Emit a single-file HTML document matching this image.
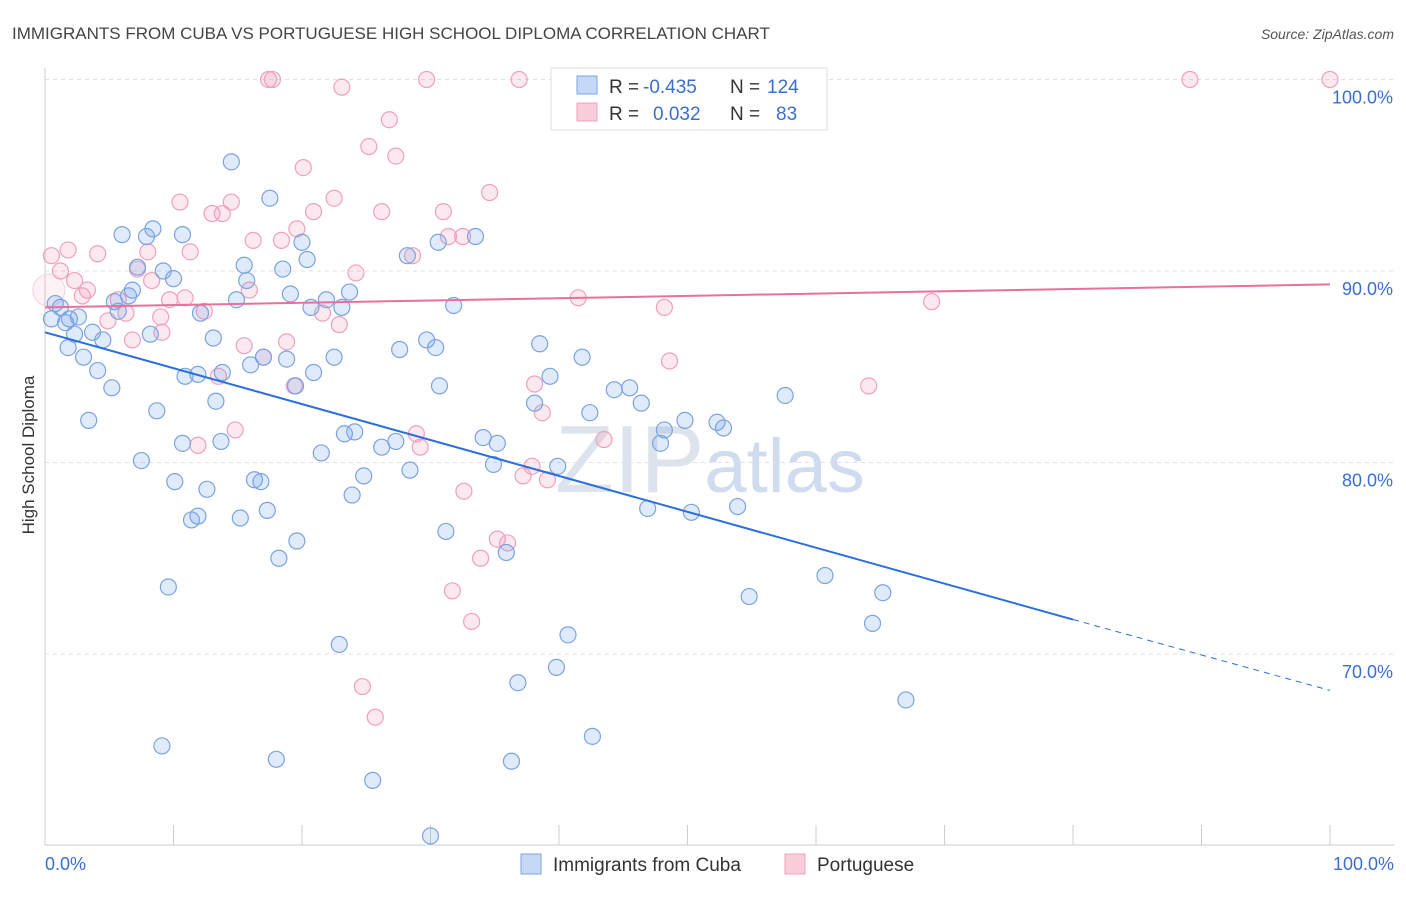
<!DOCTYPE html>
<html><head><meta charset="utf-8">
<style>
body{margin:0;background:#fff;font-family:"Liberation Sans",sans-serif;}
svg text{font-family:"Liberation Sans",sans-serif;}
</style></head>
<body>
<svg id="chart" width="1406" height="892" viewBox="0 0 1406 892" xmlns="http://www.w3.org/2000/svg">
<text x="12" y="39" font-size="17" fill="#444">IMMIGRANTS FROM CUBA VS PORTUGUESE HIGH SCHOOL DIPLOMA CORRELATION CHART</text>
<text x="1394" y="39" font-size="14" fill="#555" text-anchor="end" font-style="italic">Source: ZipAtlas.com</text>
<text x="555" y="492" font-size="96" fill="#dde3ec" font-family="Liberation Serif">ZIP<tspan fill="#cfdcf0" font-family="Liberation Sans" font-size="76">atlas</tspan></text>
<g id="grid"></g>
<g id="axes"></g>
<g id="pts"></g>
<g id="trends"></g>
<text transform="translate(34,455) rotate(-90)" font-size="17" fill="#333" text-anchor="middle">High School Diploma</text>
<g>
<rect x="551" y="68" width="276" height="62" fill="#fff" stroke="#ddd"/>
<rect x="577" y="76" width="20" height="18" fill="#c5d8f5" stroke="#7ba3e0"/>
<text x="609" y="93" font-size="19" fill="#333">R =</text>
<text x="643" y="93" font-size="19" fill="#3a6fd0">-0.435</text>
<text x="730" y="93" font-size="19" fill="#333">N =</text>
<text x="767" y="93" font-size="19" fill="#3a6fd0">124</text>
<rect x="577" y="103" width="20" height="18" fill="#f8cdd9" stroke="#f0a0bc"/>
<text x="609" y="120" font-size="19" fill="#333">R =</text>
<text x="653" y="120" font-size="19" fill="#3a6fd0">0.032</text>
<text x="730" y="120" font-size="19" fill="#333">N =</text>
<text x="776" y="120" font-size="19" fill="#3a6fd0">83</text>
</g>
<g>
<rect x="521" y="854" width="20" height="20" fill="#c5d8f5" stroke="#7ba3e0"/>
<text x="553" y="871" font-size="19" fill="#333">Immigrants from Cuba</text>
<rect x="785" y="854" width="20" height="20" fill="#f8cdd9" stroke="#f0a0bc"/>
<text x="817" y="871" font-size="19" fill="#333">Portuguese</text>
</g>
</svg>
<script>
const yTicks=[70,80,90,100];
const yTickLabels=["70.0%","80.0%","90.0%","100.0%"];
const xTickLabels=["0.0%","100.0%"];
const cubaX=[0.8,0.5,1.2,1.6,1.9,2.6,1.8,2.3,3.0,3.7,4.5,4.1,5.2,3.4,6.0,7.9,8.4,7.2,9.2,10.0,6.5,6.8,5.4,5.7,8.2,8.7,7.5,10.7,14.5,17.5,15.5,15.7,14.9,18.5,20.0,20.4,19.1,12.1,13.1,10.9,11.9,13.8,13.3,16.0,17.0,18.8,19.5,13.7,10.7,10.1,12.6,11.9,11.4,15.2,16.3,16.8,17.3,19.6,18.2,9.6,9.1,18.0,20.7,21.9,23.1,23.7,20.9,22.5,21.5,23.3,24.1,24.8,23.9,26.2,27.3,28.4,27.6,28.2,30.6,33.5,31.8,29.7,30.4,30.7,31.2,22.9,25.5,30.0,34.1,35.2,34.9,35.9,38.5,39.3,38.1,39.9,41.8,42.4,44.3,45.5,46.4,40.7,39.8,36.8,42.6,36.3,49.8,52.3,52.8,48.2,47.9,46.9,50.3,53.9,57.6,60.7,54.8,64.4,65.2,67.0];
const cubaY=[88.3,87.5,88.1,87.3,87.5,87.6,86.0,86.7,85.5,86.8,86.4,84.8,83.9,82.2,91.9,91.8,92.2,90.2,90.0,89.6,88.7,89.0,88.4,87.9,86.7,82.7,80.1,91.9,95.7,93.8,90.3,89.5,88.5,90.1,91.5,90.6,88.8,87.8,86.5,84.5,84.6,84.7,83.2,85.1,85.5,85.4,84.0,81.1,81.0,79.0,78.6,77.2,77.0,77.1,79.1,79.0,77.5,75.9,75.0,73.5,65.2,64.5,88.1,88.5,88.1,88.9,84.7,85.5,80.5,81.5,81.6,79.3,78.3,80.8,81.1,79.6,85.9,90.8,91.5,91.8,88.2,86.4,86.0,84.0,76.4,70.5,63.4,60.5,81.3,81.0,79.9,75.3,86.2,84.5,83.1,79.8,85.5,82.6,83.8,83.9,83.1,71.0,69.3,68.5,65.7,64.4,82.2,82.1,81.8,81.7,81.0,77.6,77.4,77.7,83.5,74.1,73.0,71.6,73.2,67.6];
const portX=[0.5,1.8,1.2,2.3,2.9,3.3,4.1,4.9,5.7,6.3,6.8,7.2,8.0,8.3,9.1,9.0,9.7,10.5,11.3,10.9,12.4,13.0,13.8,14.5,15.5,14.8,13.5,11.9,16.2,15.9,18.4,19.6,17.4,17.7,20.1,20.9,22.5,18.8,19.4,17.0,21.6,22.9,24.2,23.1,25.2,26.8,27.3,26.2,28.6,29.7,31.0,31.4,32.5,34.6,36.9,28.9,29.2,32.6,31.7,33.2,33.9,35.2,36.0,37.2,37.9,39.1,38.1,38.7,24.7,25.7,41.5,43.5,45.5,48.2,48.6,64.1,69.0,89.1,100.0];
const portY=[90.8,91.1,90.0,89.5,88.7,89.0,90.9,87.4,88.5,87.8,86.4,90.1,91.0,89.5,86.8,87.6,88.5,93.6,91.0,88.6,87.9,93.0,93.0,93.6,86.1,81.7,84.5,80.9,91.6,89.0,91.6,92.2,100.0,100.0,95.4,93.1,93.8,86.3,84.0,85.5,87.8,87.2,89.9,99.6,96.5,97.9,96.0,93.1,90.8,100.0,93.1,91.8,91.8,94.1,100.0,81.5,80.8,78.5,73.3,71.7,75.0,76.0,75.8,79.3,79.8,79.1,84.1,82.6,68.3,66.7,88.6,81.2,100.0,88.1,85.3,84.0,88.4,100.0,100.0];
const cubaTrend=[[0,86.8],[80,71.8],[100,68.1]];
const portTrend=[[0,88.1],[100,89.3]];

const NS="http://www.w3.org/2000/svg";
const X0=45,X1=1330,Y100=79.5,PX_PER=19.15;
const xs=v=>X0+(X1-X0)*v/100;
const ys=v=>Y100+(100-v)*PX_PER;
function mk(tag,attrs,parent){const e=document.createElementNS(NS,tag);for(const k in attrs)e.setAttribute(k,attrs[k]);parent.appendChild(e);return e;}
const grid=document.getElementById('grid'),axes=document.getElementById('axes'),pts=document.getElementById('pts'),tr=document.getElementById('trends');
yTicks.forEach((t,i)=>{
 const l=mk('line',{x1:X0,x2:1394,y1:ys(t),y2:ys(t),stroke:'#dde0e4','stroke-dasharray':'4,4'},grid);
 
 
 const tx=mk('text',{x:1393,y:ys(t)+24,'font-size':18,fill:'#3a6fd0','text-anchor':'end'},axes);
 tx.textContent=yTickLabels[i];
 
 
});
const la=mk('line',{x1:X0,x2:X0,y1:68,y2:845,stroke:'#ccc'},axes);


const lb=mk('line',{x1:X0,x2:1394,y1:845,y2:845,stroke:'#ccc'},axes);


for(let i=0;i<=10;i++){
 const t=mk('line',{x1:xs(i*10),x2:xs(i*10),y1:825,y2:845,stroke:'#ccc'},axes);
 
 
}
[[0,'start',45],[100,'end',1394]].forEach((p,i)=>{
 const tx=mk('text',{x:p[2],y:870,'font-size':18,fill:'#3a6fd0','text-anchor':p[1]},axes);
 tx.textContent=xTickLabels[i];
 
 
});
const big=mk('circle',{cx:xs(0.3),cy:ys(89.0),r:16,fill:'rgba(240,150,180,0.12)',stroke:'#f8d0dc'},pts);


portX.forEach((x,i)=>{
 const c=mk('circle',{cx:xs(x),cy:ys(portY[i]),r:8,fill:'rgba(240,150,180,0.22)',stroke:'#f0a0bc','stroke-width':1.2},pts);
 
 
});
cubaX.forEach((x,i)=>{
 const c=mk('circle',{cx:xs(x),cy:ys(cubaY[i]),r:8,fill:'rgba(110,160,230,0.22)',stroke:'#7ba3e0','stroke-width':1.2},pts);
 
 
});
const l1=mk('line',{x1:xs(cubaTrend[0][0]),y1:ys(cubaTrend[0][1]),x2:xs(cubaTrend[1][0]),y2:ys(cubaTrend[1][1]),stroke:'#2a6fdb','stroke-width':2},tr);


const l2=mk('line',{x1:xs(cubaTrend[1][0]),y1:ys(cubaTrend[1][1]),x2:xs(cubaTrend[2][0]),y2:ys(cubaTrend[2][1]),stroke:'#2a6fdb','stroke-width':1,'stroke-dasharray':'6,5'},tr);


const l3=mk('line',{x1:xs(portTrend[0][0]),y1:ys(portTrend[0][1]),x2:xs(portTrend[1][0]),y2:ys(portTrend[1][1]),stroke:'#e8709a','stroke-width':2},tr);


</script>
</body></html>
